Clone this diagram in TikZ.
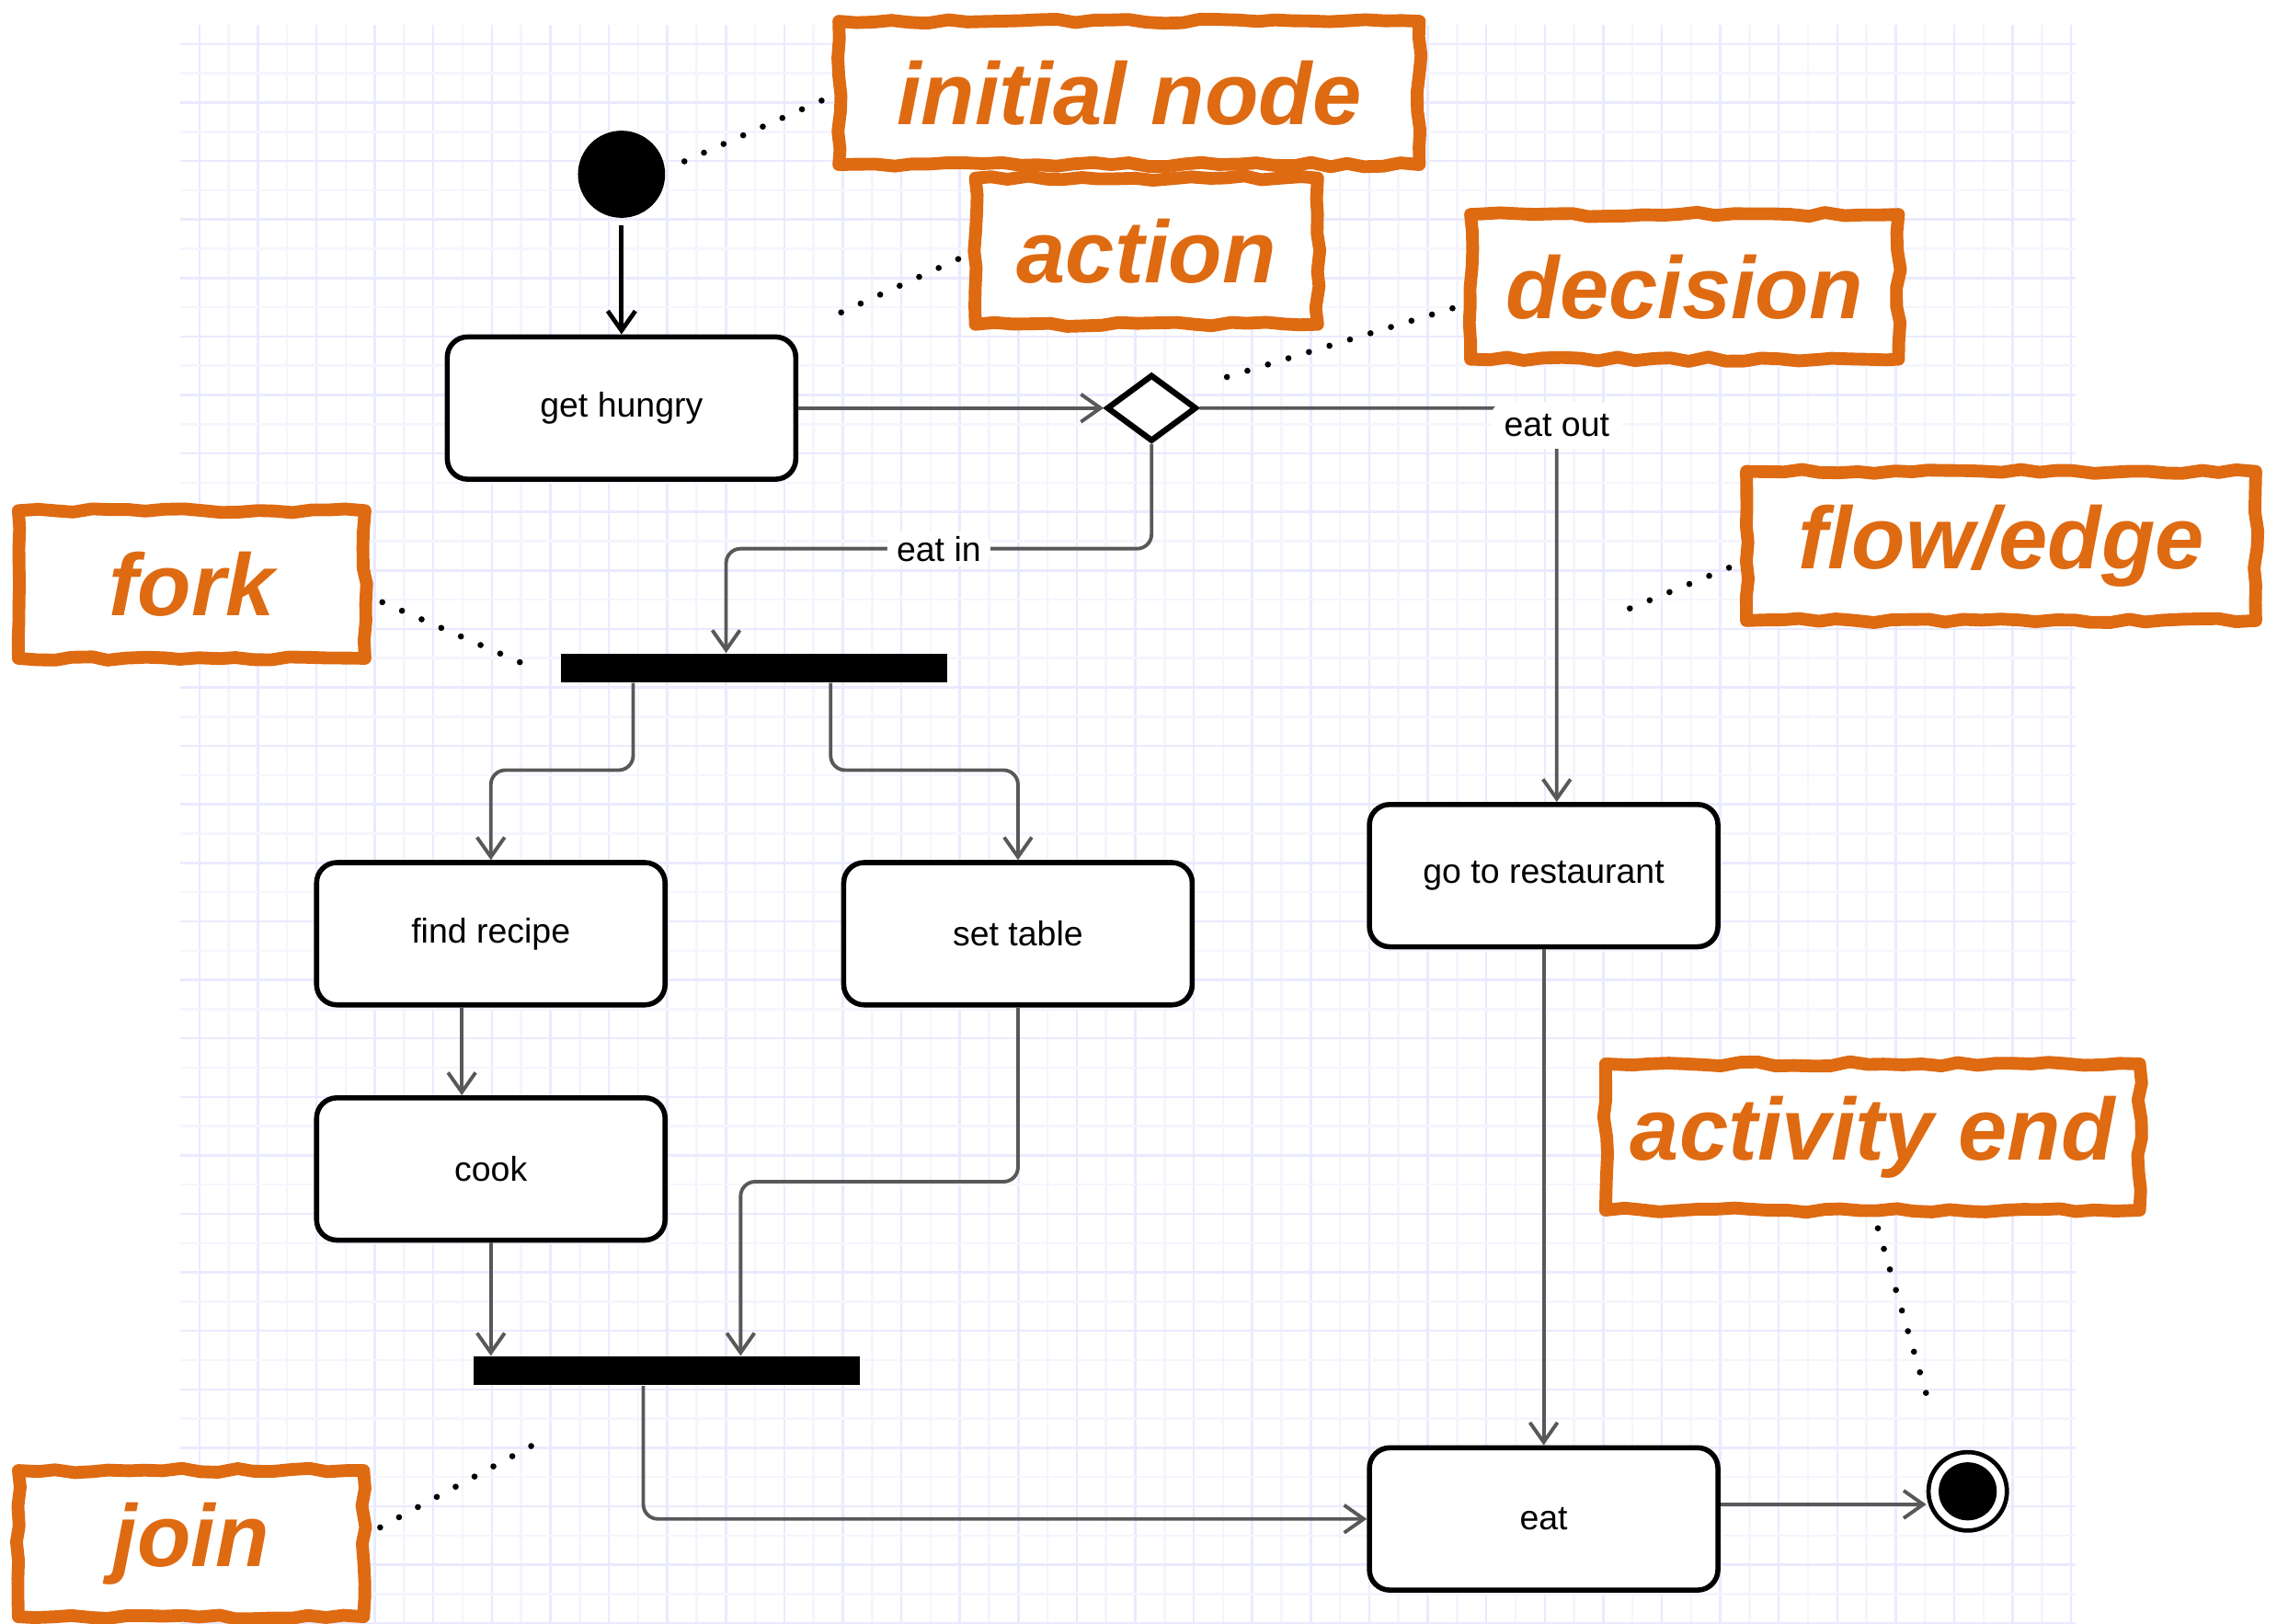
\documentclass[tikz,border=0pt]{standalone}
\usepackage{fontspec}
\setmainfont{Liberation Sans}
\usetikzlibrary{arrows.meta,shapes.geometric,decorations.pathmorphing,calc}

\definecolor{notecolor}{RGB}{222,106,18}
\definecolor{flowgray}{RGB}{88,88,88}
\definecolor{gridmajor}{RGB}{234,234,255}
\definecolor{gridminor}{RGB}{245,245,254}

\tikzset{
  actbox/.style={draw, line width=2pt, rounded corners=2.8mm, fill=white,
    minimum width=48mm, minimum height=19.6mm,
    font=\fontsize{13.5}{16}\selectfont},
  barnode/.style={fill=black, minimum width=53.2mm, minimum height=4mm, inner sep=0pt},
  flowline/.style={draw=flowgray, line width=1.4pt, rounded corners=2mm,
    -{Straight Barb[length=2.7mm,width=3.8mm]}},
  guardlbl/.style={fill=white, inner xsep=1.3mm, inner ysep=0.6mm,
    font=\fontsize{13.5}{16}\selectfont},
  notebox/.style={fill=white, text=notecolor, inner sep=0pt,
    font=\fontsize{34.5}{40}\selectfont\bfseries\itshape},
  noteframe/.style={draw=notecolor, line width=5pt, line join=round,
    decorate, decoration={random steps, segment length=2.5mm, amplitude=0.3mm}},
  leaderdots/.style={line width=2.4pt, dash pattern=on 0pt off 8.4pt,
    line cap=round, shorten <=2.6mm},
}

\begin{document}
\begin{tikzpicture}[x=0.2mm, y=-0.2mm]
	\pgfmathsetseed{7}
	\useasboundingbox (0,0) rectangle (1568,1118);

	% squared paper behind the diagram
	\begin{scope}
		\clip (124,17) rectangle (1429,1118);
		\foreach \k in {0,...,64} {
			\pgfmathsetmacro\gx{137.3+20.14*\k}
			\ifodd\k \def\gc{gridminor}\else \def\gc{gridmajor}\fi
			\draw[\gc, line width=0.9pt] (\gx,17) -- (\gx,1118);
		}
		\foreach \k in {0,...,54} {
			\pgfmathsetmacro\gy{30.3+20.14*\k}
			\ifodd\k \def\gc{gridminor}\else \def\gc{gridmajor}\fi
			\draw[\gc, line width=0.9pt] (124,\gy) -- (1429,\gy);
		}
	\end{scope}

	% activity diagram
	\node[circle, fill=black, minimum size=12mm, inner sep=0pt] (start) at (428,120) {};
	\node[actbox] (hungry) at (428,281) {get hungry};
	\node[diamond, draw, line width=2.3pt, fill=white, minimum width=12.4mm,
		minimum height=9.2mm, inner sep=0pt] (dec) at (793,281) {};
	\node[barnode] (fork) at (519,460) {};
	\node[actbox] (recipe) at (338,643) {find recipe};
	\node[actbox] (table) at (701,643) {set table};
	\node[actbox] (cook) at (338,805) {cook};
	\node[barnode] (join) at (459,944) {};
	\node[actbox] (rest) at (1063,603) {go to restaurant};
	\node[actbox] (eat) at (1063,1046) {eat};
	\node[circle, draw, line width=1.7pt, fill=white, minimum size=10.8mm,
		inner sep=0pt] (final) at (1355,1027) {};
	\fill (final.center) circle (4mm);

	\draw[line width=1.7pt, shorten <=1mm, -{Straight Barb[length=2.7mm,width=3.8mm]}] (start) -- (hungry);
	\draw[flowline] (hungry) -- (dec);
	\draw[flowline] (dec.east) -| node[guardlbl, pos=.5, yshift=-2.4mm, inner xsep=1.8mm,
		minimum height=6.4mm] (eatoutlbl) {eat out} ([xshift=1.8mm]rest.north);
	\coordinate (forkin) at ([xshift=-3.8mm]fork.north);
	\draw[flowline] (dec.south) |- ($(dec.south)!.5!(forkin)$) node[guardlbl] (eatinlbl) {eat in} -| (forkin);
	\draw[flowline] ([xshift=-16.6mm]fork.south) -- ++(0,-12mm) -| (recipe.north);
	\draw[flowline] ([xshift=10.6mm]fork.south) -- ++(0,-12mm) -| (table.north);
	\draw[flowline] ([xshift=-4mm]recipe.south) -- ([xshift=-4mm]cook.north);
	\draw[flowline] (cook.south) -- (cook.south |- join.north);
	\draw[flowline] (table.south) -- ++(0,-24mm) -| ([xshift=10.2mm]join.north);
	\draw[flowline] ([xshift=-3.2mm]join.south) |- (eat.west);
	\draw[flowline] (rest.south) -- (eat.north);
	\coordinate (eatexit) at ([yshift=2mm]eat.east);
	\draw[flowline] (eatexit) -- (eatexit -| final.west);

	% hand drawn call-outs
	\node[notebox, minimum width=79.8mm, minimum height=19.6mm] (lblinit) at (777.5,64) {initial node};
	\node[notebox, minimum width=47mm, minimum height=20mm] (lblact) at (789.5,173) {action};
	\node[notebox, minimum width=58.8mm, minimum height=19.8mm] (lbldec) at (1160,197.5) {decision};
	\node[notebox, minimum width=70mm, minimum height=20.4mm] (lblflow) at (1378,376) {flow/edge};
	\node[notebox, minimum width=47.6mm, minimum height=20.2mm] (lblfork) at (132,402.5) {fork};
	\node[notebox, minimum width=73.4mm, minimum height=20mm] (lblend) at (1289.5,783) {activity end};
	\node[notebox, minimum width=47.4mm, minimum height=20mm] (lbljoin) at (131.5,1063) {join};
	\foreach \n in {lblinit,lblact,lbldec,lblflow,lblfork,lblend,lbljoin}
		\draw[noteframe] (\n.north west) rectangle (\n.south east);

	\coordinate (tipinit) at (467,113);
	\coordinate (tipact) at (573,218);
	\coordinate (tipdec) at (837,262);
	\coordinate (tipflow) at (1115,422);
	\coordinate (tipfork) at (358,456);
	\coordinate (tipend) at (1330,972);
	\coordinate (tipjoin) at (371,993);
	\draw[leaderdots] (lblinit.west) -- (tipinit);
	\draw[leaderdots] (lblact.west) -- (tipact);
	\draw[leaderdots] ([yshift=-2.2mm]lbldec.west) -- (tipdec);
	\draw[leaderdots] ([yshift=-2mm]lblflow.west) -- (tipflow);
	\draw[leaderdots] ([yshift=-1.4mm]lblfork.east) -- (tipfork);
	\draw[leaderdots] (lblend.south) -- (tipend);
	\draw[leaderdots] ([yshift=1mm]lbljoin.east) -- (tipjoin);
\end{tikzpicture}
\end{document}
